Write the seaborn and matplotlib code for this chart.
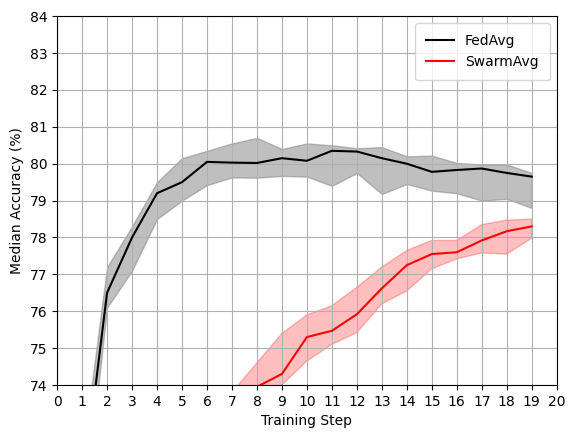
import numpy as np
import pandas as pd
import seaborn as sns
import matplotlib.pyplot as plt

steps = list(range(1, 20))

fedavg_median = [71.0, 76.5, 78.0, 79.2, 79.5, 80.05, 80.03, 80.02, 80.15, 80.08,
                 80.35, 80.33, 80.15, 80.0, 79.78, 79.83, 79.87, 79.75, 79.65]
fedavg_upper = [72.0, 77.2, 78.3, 79.5, 80.15, 80.35, 80.55, 80.7, 80.4, 80.55,
                80.5, 80.42, 80.45, 80.2, 80.22, 80.02, 79.98, 79.98, 79.75]
fedavg_lower = [70.0, 76.1, 77.1, 78.5, 79.0, 79.42, 79.63, 79.62, 79.67, 79.65,
                79.4, 79.75, 79.18, 79.45, 79.27, 79.2, 79.0, 79.05, 78.8]

swarm_median = [62.0, 66.0, 68.5, 70.0, 71.2, 72.2, 73.1, 73.95, 74.3, 75.3,
                75.47, 75.92, 76.62, 77.25, 77.55, 77.6, 77.92, 78.17, 78.3]
swarm_upper = [63.0, 67.0, 69.3, 70.8, 72.0, 73.0, 73.8, 74.6, 75.4, 75.9,
               76.15, 76.65, 77.2, 77.65, 77.92, 77.92, 78.35, 78.47, 78.5]
swarm_lower = [61.0, 65.0, 67.7, 69.2, 70.4, 71.4, 72.4, 73.3, 74.0, 74.65,
               75.1, 75.42, 76.2, 76.55, 77.15, 77.42, 77.58, 77.55, 77.98]

df = pd.DataFrame({
    "step": steps * 2,
    "acc": fedavg_median + swarm_median,
    "method": ["FedAvg"] * len(steps) + ["SwarmAvg"] * len(steps),
})

fig, ax = plt.subplots(figsize=(5.71, 4.38), dpi=100)
sns.lineplot(data=df, x="step", y="acc", hue="method",
             palette={"FedAvg": "black", "SwarmAvg": "red"}, ax=ax)
ax.fill_between(steps, fedavg_lower, fedavg_upper, color="gray", alpha=0.5)
ax.fill_between(steps, swarm_lower, swarm_upper, color="red", alpha=0.25)

ax.set_xlim(0, 20)
ax.set_ylim(74, 84)
ax.set_xticks(range(0, 21))
ax.set_yticks(range(74, 85))
ax.grid(True, color="#b0b0b0")
ax.set_xlabel("Training Step")
ax.set_ylabel("Median Accuracy (%)")
ax.legend(title=None, loc="upper right", borderpad=0.8)
fig.subplots_adjust(left=0.1, right=0.975, top=0.963, bottom=0.121)
plt.savefig("out.png")
plt.close()
